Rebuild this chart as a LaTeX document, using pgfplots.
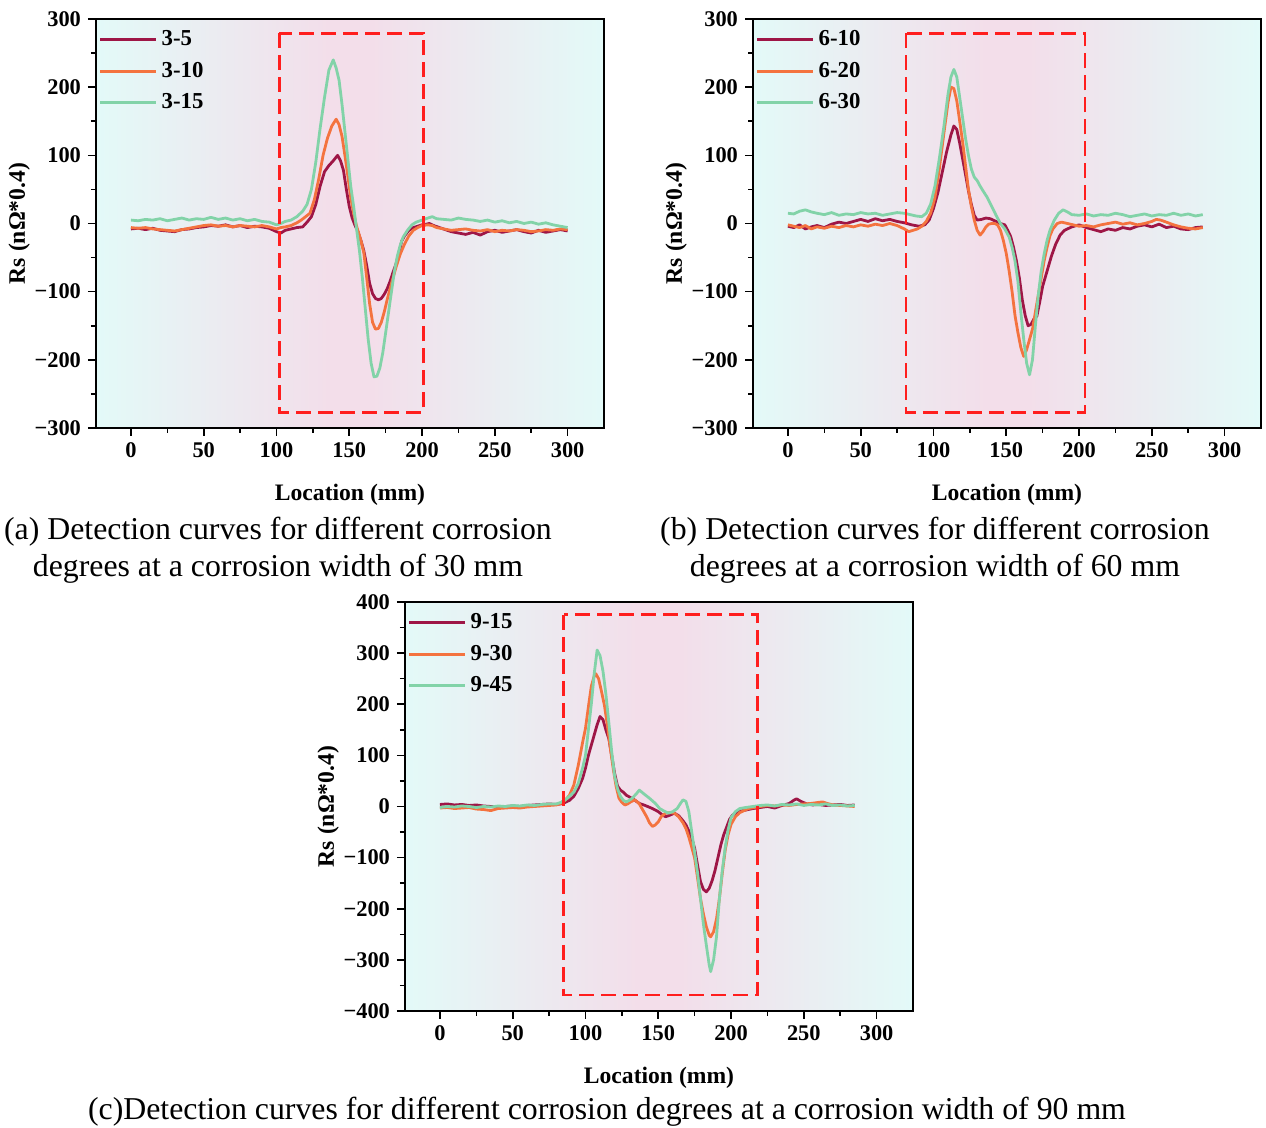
\documentclass[border=0pt]{standalone}
\usepackage{pgfplots}
\pgfplotsset{compat=1.18}
\usepackage{fontspec}
\setmainfont{Liberation Serif}
\definecolor{c1}{HTML}{9E1646}
\definecolor{c2}{HTML}{F4733F}
\definecolor{c3}{HTML}{82D3A8}
\definecolor{bgcyan}{HTML}{E3FAF8}
\definecolor{bgpink}{HTML}{F3DEEA}
\definecolor{boxred}{HTML}{FF1E1E}
\pgfdeclarehorizontalshading{bgshade}{100bp}{color(0bp)=(bgcyan); color(25bp)=(bgcyan); color(48bp)=(bgpink); color(52bp)=(bgpink); color(75bp)=(bgcyan); color(100bp)=(bgcyan)}

\tikzset{rsbox/.style={boxred, line width=1.3pt, dash pattern=on 7.5pt off 3.5pt}}

\pgfplotsset{
  rsaxis/.style={
    anchor=north west, scale only axis,
    width=254pt, height=204.5pt,
    xmin=-24, xmax=325,
    xtick={0,50,...,300}, minor x tick num=1,
    tick pos=left, tick align=outside,
    major tick length=4pt, minor tick length=2.5pt,
    axis line style={line width=1pt}, every tick/.style={line width=0.8pt, black},
    tick label style={font=\fontsize{11.2}{12}\bfseries},
    /pgf/number format/assume math mode=true,
    label style={font=\fontsize{11.8}{13}\bfseries},
    xlabel style={yshift=-6pt},
    ylabel style={yshift=-4.5pt},
    xlabel={Location (mm)},
    ylabel={Rs (nΩ*0.4)},
    axis background/.style={shading=bgshade},
    legend style={at={(0.005,0.982)}, anchor=north west, draw=none, fill=none,
      font=\fontsize{11.4}{12}\bfseries, row sep=2.6pt, inner sep=0pt},
    legend cell align=left,
    legend image code/.code={\draw[#1] (0pt,0pt) -- (28pt,0pt);},
    every axis plot/.append style={line width=1.4pt, line join=round},
  },
}

\begin{document}
\begin{tikzpicture}
\useasboundingbox (0pt,0pt) rectangle (633pt,-564pt);

% (a) width 30 mm
\begin{axis}[rsaxis, at={(48pt,-9.5pt)},
  ymin=-300, ymax=300, ytick={-300,-200,...,300}, minor y tick num=1,
  yticklabels={−300,−200,−100,0,100,200,300}]
\addplot[c1] coordinates {
(0,-8) (5,-7) (10,-9) (15,-7) (20,-10) (25,-11) (30,-12) (35,-9) (40,-8) (45,-6) (50,-5) (55,-3) (60,-4) (65,-2) (70,-5) (75,-3) (80,-6) (85,-4) (90,-5) (95,-7) (100,-12) (103,-14) (106,-10) (110,-8) (114,-6) (118,-5) (121,2) (124,10) (127,28) (130,55) (133,76) (136,85) (139,92) (142,100) (144,92) (146,78) (148,50) (150,25) (152,8) (154,-3) (156,-12) (158,-25) (160,-40) (162,-62) (164,-88) (166,-103) (168,-110) (170,-112) (172,-110) (174,-104) (176,-96) (178,-85) (180,-72) (182,-60) (184,-45) (186,-26) (188,-18) (191,-10) (194,-6) (197,-4) (200,-2) (203,-1) (205,0) (208,-3) (212,-6) (216,-9) (220,-12) (225,-14) (230,-16) (235,-13) (240,-17) (245,-12) (250,-10) (255,-13) (260,-11) (265,-9) (270,-12) (275,-14) (280,-10) (285,-13) (290,-11) (295,-9) (300,-11)};
\addplot[c2] coordinates {
(0,-6) (5,-7) (10,-6) (15,-8) (20,-9) (25,-10) (30,-11) (35,-9) (40,-7) (45,-5) (50,-3) (55,-2) (60,-4) (65,-3) (70,-5) (75,-3) (80,-4) (85,-5) (90,-3) (95,-5) (100,-8) (103,-6) (106,-5) (110,-3) (114,1) (117,5) (120,10) (123,15) (126,35) (129,65) (132,100) (135,125) (138,143) (141,153) (143,145) (145,128) (147,100) (149,70) (151,38) (153,15) (155,-4) (158,-25) (160,-43) (162,-80) (164,-118) (166,-145) (168,-155) (170,-154) (172,-145) (174,-130) (176,-112) (179,-88) (182,-65) (185,-45) (188,-30) (191,-18) (194,-10) (197,-6) (200,-3) (204,-2) (207,-3) (210,-6) (215,-8) (220,-10) (225,-9) (230,-8) (235,-10) (240,-11) (245,-9) (250,-12) (255,-10) (260,-11) (265,-9) (270,-10) (275,-12) (280,-11) (285,-9) (290,-10) (295,-8) (300,-9)};
\addplot[c3] coordinates {
(0,5) (5,4) (10,6) (15,5) (20,7) (25,4) (30,6) (35,8) (40,5) (45,7) (50,6) (55,9) (60,6) (65,8) (70,5) (75,7) (80,4) (85,6) (90,3) (95,2) (100,-2) (103,0) (106,3) (110,5) (114,10) (118,18) (121,28) (124,50) (127,90) (130,140) (133,185) (136,225) (139,240) (141,228) (143,210) (145,175) (147,135) (149,95) (151,55) (153,25) (155,-8) (157,-40) (159,-80) (161,-125) (163,-170) (165,-205) (167,-225) (169,-224) (171,-212) (173,-190) (175,-160) (177,-130) (179,-100) (181,-70) (183,-48) (185,-32) (187,-20) (190,-10) (193,-2) (196,2) (200,5) (204,8) (207,10) (210,7) (215,6) (220,5) (225,8) (230,6) (235,5) (240,3) (245,5) (250,2) (255,4) (260,1) (265,3) (270,0) (275,2) (280,-1) (285,1) (290,-2) (295,-4) (300,-6)};
\legend{3-5,3-10,3-15}
\draw[rsbox] (axis cs:102,279) rectangle (axis cs:201,-277);
\end{axis}

% (b) width 60 mm
\begin{axis}[rsaxis, at={(376.5pt,-9.5pt)},
  ymin=-300, ymax=300, ytick={-300,-200,...,300}, minor y tick num=1,
  yticklabels={−300,−200,−100,0,100,200,300}]
\addplot[c1] coordinates {
(0,-4) (4,-6) (8,-2) (12,-8) (16,-5) (20,-3) (25,-6) (30,-1) (35,2) (40,0) (45,3) (50,6) (55,3) (60,7) (65,4) (70,6) (75,3) (80,1) (85,-2) (90,-4) (94,-2) (97,5) (100,22) (103,45) (106,75) (109,105) (112,130) (114,143) (116,138) (118,118) (120,95) (122,72) (124,48) (126,28) (128,12) (130,5) (133,6) (136,8) (139,7) (142,4) (146,0) (149,-2) (151,-10) (153,-19) (155,-35) (157,-55) (159,-80) (161,-112) (163,-135) (165,-150) (167,-148) (169,-140) (171,-136) (173,-115) (175,-92) (178,-70) (181,-48) (184,-30) (187,-17) (190,-10) (195,-5) (200,-2) (205,-6) (210,-9) (215,-12) (220,-8) (225,-10) (230,-6) (235,-8) (240,-4) (245,-2) (250,-5) (255,-1) (260,-6) (265,-4) (270,-8) (275,-9) (280,-6) (285,-5)};
\addplot[c2] coordinates {
(0,-2) (4,-4) (8,-6) (12,-3) (16,-8) (20,-5) (25,-7) (30,-4) (35,-6) (40,-3) (45,-5) (50,-2) (55,-4) (60,-1) (65,-3) (70,0) (75,-3) (80,-8) (83,-12) (86,-10) (89,-8) (92,-4) (95,3) (98,15) (101,38) (104,80) (107,130) (110,178) (112,200) (114,198) (116,180) (118,150) (120,120) (122,85) (124,50) (126,25) (128,5) (130,-10) (132,-17) (134,-12) (136,-5) (138,-1) (140,0) (142,0) (144,-2) (146,-10) (148,-25) (150,-44) (152,-70) (154,-100) (156,-135) (158,-160) (160,-182) (162,-195) (164,-185) (166,-170) (168,-155) (170,-130) (172,-105) (174,-80) (176,-55) (178,-35) (180,-18) (182,-8) (185,0) (188,2) (192,0) (196,-2) (200,-4) (205,-3) (210,-5) (215,-2) (220,0) (225,2) (230,-1) (235,1) (240,-2) (245,0) (250,3) (253,6) (256,5) (260,2) (265,-2) (270,-5) (275,-7) (280,-8) (285,-6)};
\addplot[c3] coordinates {
(0,15) (4,14) (8,18) (12,20) (16,17) (20,15) (25,13) (30,16) (35,12) (40,14) (45,13) (50,16) (55,14) (60,15) (65,12) (70,14) (75,16) (80,15) (84,13) (88,11) (92,10) (95,15) (98,28) (101,55) (104,95) (107,140) (110,190) (112,215) (114,226) (116,215) (118,185) (120,155) (122,125) (124,100) (126,80) (128,68) (130,63) (132,55) (134,48) (137,38) (140,25) (143,12) (146,0) (149,-8) (152,-20) (154,-35) (156,-55) (158,-85) (160,-130) (162,-170) (164,-205) (166,-222) (168,-200) (170,-150) (172,-105) (174,-70) (176,-45) (178,-25) (180,-10) (183,5) (186,15) (189,20) (192,17) (195,13) (200,12) (205,14) (210,11) (215,13) (220,12) (225,15) (230,13) (235,10) (240,12) (245,14) (250,11) (255,13) (260,12) (265,15) (270,12) (275,14) (280,11) (285,13)};
\legend{6-10,6-20,6-30}
\draw[rsbox] (axis cs:81,279) rectangle (axis cs:204,-277);
\end{axis}

% (c) width 90 mm
\begin{axis}[rsaxis, at={(202.5pt,-301pt)},
  ymin=-400, ymax=400, ytick={-400,-300,...,400}, minor y tick num=1,
  yticklabels={−400,−300,−200,−100,0,100,200,300,400}]
\addplot[c1] coordinates {
(0,4) (5,5) (10,3) (15,4) (20,2) (25,3) (30,1) (35,0) (40,-1) (45,0) (50,1) (55,0) (60,2) (65,3) (70,4) (75,5) (80,4) (83,5) (86,8) (89,12) (92,20) (95,35) (98,55) (100,75) (102,100) (104,120) (106,140) (108,160) (110,176) (112,170) (114,150) (116,133) (118,100) (120,65) (122,40) (124,32) (126,28) (128,22) (130,19) (133,14) (137,6) (141,2) (146,-4) (150,-10) (153,-17) (155,-20) (158,-17) (161,-13) (164,-18) (167,-28) (169,-36) (171,-48) (173,-62) (175,-82) (177,-115) (179,-147) (181,-162) (183,-167) (185,-160) (187,-145) (189,-125) (191,-100) (193,-75) (195,-55) (197,-40) (199,-25) (201,-17) (205,-10) (210,-7) (215,-4) (220,-2) (225,0) (230,-3) (235,2) (240,6) (243,12) (245,15) (248,10) (252,5) (256,3) (260,4) (265,2) (270,3) (275,4) (280,2) (285,3)};
\addplot[c2] coordinates {
(0,-3) (5,-2) (10,-4) (15,-3) (20,-2) (25,-5) (30,-6) (35,-8) (40,-4) (45,-3) (50,-2) (55,-3) (60,-1) (65,0) (70,1) (75,2) (80,3) (83,6) (86,12) (89,22) (92,42) (95,80) (98,125) (100,153) (102,195) (104,235) (106,255) (107,260) (109,250) (111,225) (113,198) (115,160) (117,115) (119,75) (121,40) (123,16) (125,8) (127,3) (129,5) (131,9) (134,13) (137,5) (140,-10) (142,-20) (144,-32) (146,-39) (148,-36) (150,-30) (152,-20) (155,-13) (158,-12) (161,-13) (164,-20) (167,-32) (169,-43) (171,-60) (173,-80) (175,-101) (177,-140) (179,-180) (181,-210) (183,-235) (185,-252) (186,-255) (188,-245) (190,-220) (192,-180) (194,-130) (196,-85) (198,-55) (200,-35) (203,-20) (206,-12) (209,-8) (212,-4) (216,-2) (220,0) (225,2) (230,1) (235,3) (240,2) (245,4) (250,5) (255,6) (260,8) (263,9) (266,6) (270,3) (275,2) (280,1) (285,0)};
\addplot[c3] coordinates {
(0,-2) (5,0) (10,-1) (15,1) (20,0) (25,-2) (30,0) (35,-1) (40,1) (45,0) (50,2) (55,1) (60,3) (65,2) (70,4) (75,5) (80,5) (83,8) (86,13) (89,20) (92,28) (95,45) (98,75) (100,100) (102,150) (104,200) (106,260) (108,306) (110,295) (112,265) (114,220) (116,165) (118,107) (120,60) (122,35) (124,20) (126,12) (128,9) (130,12) (132,16) (135,25) (137,32) (140,25) (144,16) (148,6) (151,-4) (154,-9) (157,-13) (160,-10) (163,-4) (165,5) (167,13) (169,10) (171,-10) (173,-50) (175,-90) (177,-130) (179,-180) (181,-230) (183,-271) (185,-310) (186,-323) (188,-300) (190,-255) (192,-180) (194,-125) (196,-80) (198,-45) (200,-22) (203,-10) (206,-4) (210,-2) (215,0) (220,2) (225,3) (230,1) (235,4) (240,3) (245,5) (250,2) (255,4) (260,3) (265,5) (270,2) (275,3) (280,1) (285,2)};
\legend{9-15,9-30,9-45}
\draw[rsbox] (axis cs:85,375) rectangle (axis cs:218,-369);
\end{axis}

\node[align=center, font=\fontsize{15.9}{18.5}\selectfont] at (139pt,-275pt)
  {(a) Detection curves for different corrosion\\degrees at a corrosion width of 30 mm};
\node[align=center, font=\fontsize{15.9}{18.5}\selectfont] at (467.5pt,-275pt)
  {(b) Detection curves for different corrosion\\degrees at a corrosion width of 60 mm};
\node[font=\fontsize{15.9}{18.5}\selectfont] at (303.5pt,-556pt)
  {(c)Detection curves for different corrosion degrees at a corrosion width of 90 mm};
\end{tikzpicture}
\end{document}
